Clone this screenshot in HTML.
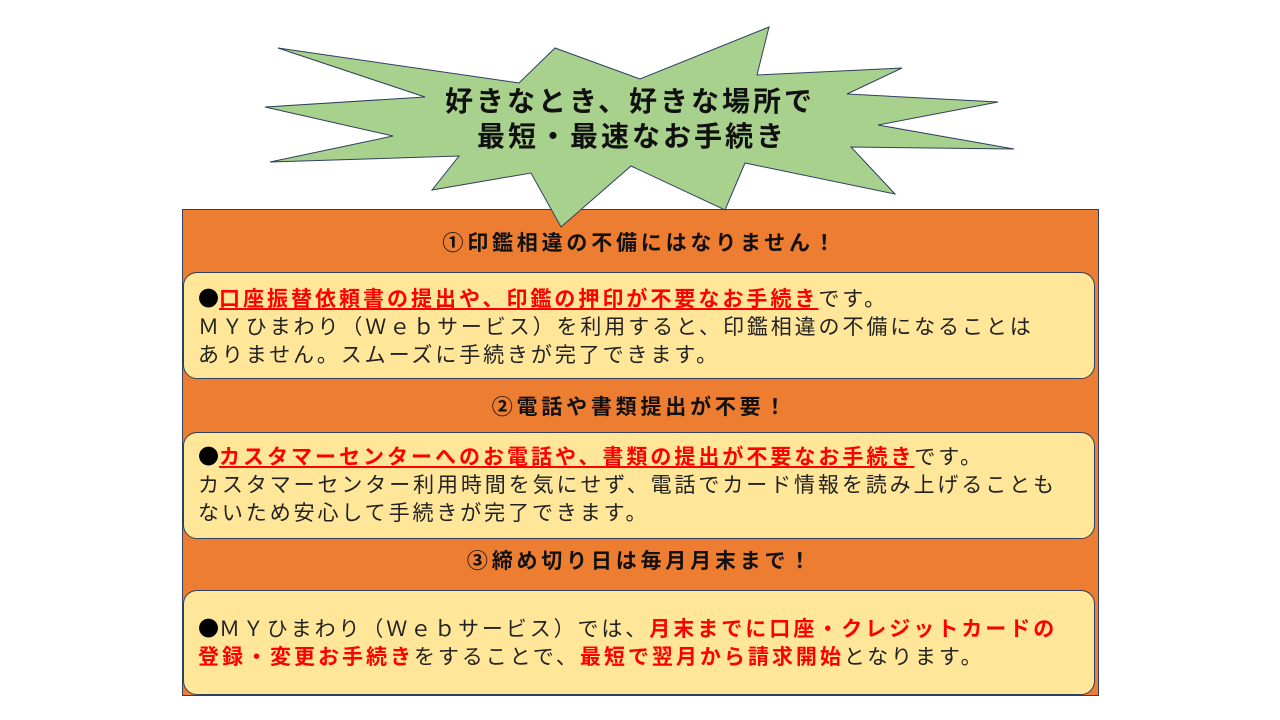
<!DOCTYPE html>
<html><head><meta charset="utf-8"><style>
body{margin:0;width:1280px;height:720px;background:#fff;position:relative;overflow:hidden;font-family:"Liberation Sans","Noto Sans CJK JP",sans-serif;}
.org{position:absolute;left:182px;top:209px;width:915px;height:485px;background:#ED7D31;border:1px solid #2F3F5F;}
.h{position:absolute;left:182px;width:917px;text-align:center;font-weight:bold;font-size:21px;letter-spacing:3.8px;color:#111;line-height:28px;}
.box{position:absolute;left:183px;width:912px;background:#FFE699;border:1px solid #2F3F5F;border-radius:14px;box-sizing:border-box;}
.t{position:absolute;left:14px;font-size:21px;letter-spacing:2.9px;line-height:28px;color:#222;white-space:nowrap;}
.r{color:#F00;font-weight:bold;letter-spacing:3px;}
.u{text-decoration:underline;}
.d{font-family:"Noto Sans CJK JP",sans-serif;letter-spacing:0;color:#000;}
svg{position:absolute;left:0;top:0;}
</style></head><body>
<div class="org"></div>
<div class="h" style="top:230px">①印鑑相違の不備にはなりません！</div>
<div class="box" style="top:272px;height:107px">
<div class="t" style="top:11px"><span class="d">●</span><span class="r u">口座振替依頼書の提出や、印鑑の押印が不要なお手続き</span>です。<br>ＭＹひまわり（Ｗｅｂサービス）を利用すると、印鑑相違の不備になることは<br>ありません。スムーズに手続きが完了できます。</div>
</div>
<div class="h" style="top:394px">②電話や書類提出が不要！</div>
<div class="box" style="top:432px;height:107px">
<div class="t" style="top:9px"><span class="d">●</span><span class="r u">カスタマーセンターへのお電話や、書類の提出が不要なお手続き</span>です。<br>カスタマーセンター利用時間を気にせず、電話でカード情報を読み上げることも<br>ないため安心して手続きが完了できます。</div>
</div>
<div class="h" style="top:548px">③締め切り日は毎月月末まで！</div>
<div class="box" style="top:590px;height:105px">
<div class="t" style="top:23px"><span class="d">●</span>ＭＹひまわり（Ｗｅｂサービス）では、<span class="r">月末までに口座・クレジットカードの</span><br><span class="r">登録・変更お手続き</span>をすることで、<span class="r">最短で翌月から請求開始</span>となります。</div>
</div>
<svg width="1280" height="720">
<polygon points="278,48 519,83 555,48 640,79 769,27 757,75 902,68 847,94 998,102 878,125 1014,149 851,147 895,194 745,163 725,210 631,166 561,227 531,173 432,190 459,156 270,162 393,136 265,107 425,97" fill="#A9D18E" stroke="#2F3F5F" stroke-width="1"/>
<text x="630" y="111" text-anchor="middle" font-size="28" letter-spacing="3" font-weight="bold" fill="#111" font-family="Liberation Sans, Noto Sans CJK JP, sans-serif">好きなとき、好きな場所で</text>
<text x="632" y="146" text-anchor="middle" font-size="28" letter-spacing="3" font-weight="bold" fill="#111" font-family="Liberation Sans, Noto Sans CJK JP, sans-serif">最短・最速なお手続き</text>
</svg>
</body></html>
